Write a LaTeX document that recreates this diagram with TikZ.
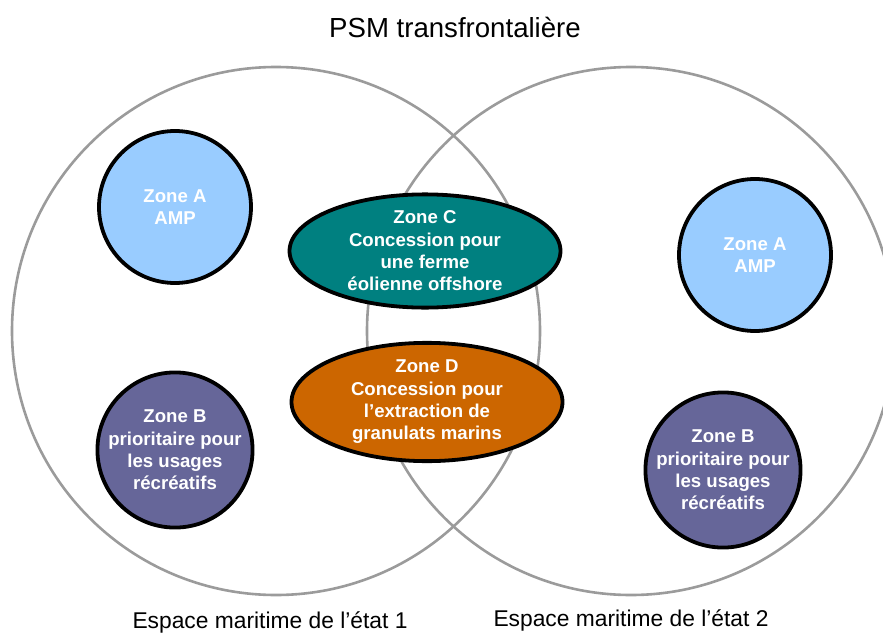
\documentclass[tikz,border=0pt]{standalone}
\usepackage{fontspec}
\setmainfont{Liberation Sans}
\usetikzlibrary{shapes.geometric}
\definecolor{ringgray}{RGB}{155,155,155}
\definecolor{zoneA}{RGB}{153,204,255}
\definecolor{zoneB}{RGB}{102,102,153}
\definecolor{zoneC}{RGB}{0,128,128}
\definecolor{zoneD}{RGB}{204,102,0}
\begin{document}
\begin{tikzpicture}[x=1pt,y=-1pt,
  bigring/.style={draw=ringgray, line width=2.6pt, circle, minimum size=528pt, inner sep=0pt},
  zone/.style={draw=black, line width=3.8pt, text=white, align=center, inner sep=0pt,
    font=\bfseries\fontsize{18.6}{22.3}\selectfont},
  zonecirc/.style={zone, circle, minimum size=152pt},
  zoneell/.style={zone, ellipse, minimum width=271pt, minimum height=106pt},
  caption/.style={font=\fontsize{22.8}{26}\selectfont, inner sep=0pt}]
\useasboundingbox (0,0) rectangle (883,634);
\node[caption, font=\fontsize{27.6}{30}\selectfont] (title) at (455,27) {PSM transfrontalière};
\node[bigring] (s1) at (276,331) {};
\node[bigring] (s2) at (631,331) {};
\node[zonecirc, fill=zoneA] (a1) at (175,207) {Zone A\\AMP};
\node[zonecirc, fill=zoneB] (b1) at (175,450) {Zone B\\prioritaire pour\\les usages\\récréatifs};
\node[zonecirc, fill=zoneA] (a2) at (755,255) {Zone A\\AMP};
\node[zonecirc, fill=zoneB] (b2) at (723,470) {Zone B\\prioritaire pour\\les usages\\récréatifs};
\node[zoneell, fill=zoneC] (c) at (425,251) {Zone C\\Concession pour\\une ferme\\éolienne offshore};
\node[zoneell, fill=zoneD] (d) at (427,402) {Zone D\\Concession pour\\l’extraction de\\granulats marins};
\node[caption] (l1) at (270,622) {Espace maritime de l’état 1};
\node[caption] (l2) at (631,620) {Espace maritime de l’état 2};
\end{tikzpicture}
\end{document}
